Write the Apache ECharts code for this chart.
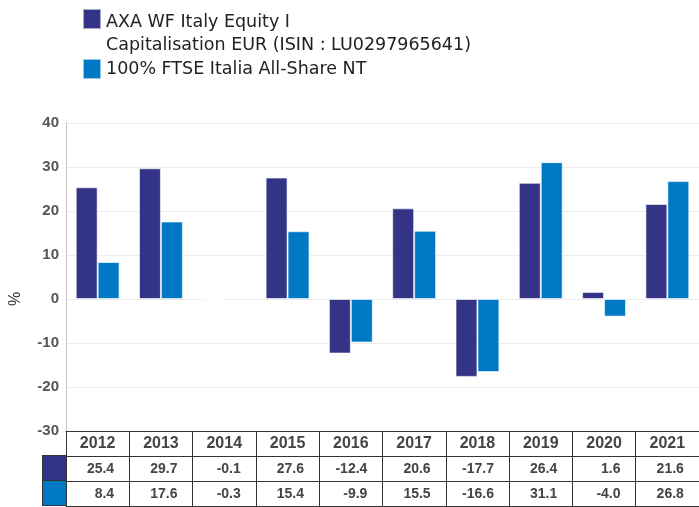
<!DOCTYPE html>
<html>
<head>
<meta charset="utf-8">
<script src="https://cdn.jsdelivr.net/npm/echarts@6/dist/echarts.min.js"></script>
<style>
  html, body { margin: 0; padding: 0; background: #fff; }
  #chart { width: 699px; height: 507px; }
</style>
</head>
<body>
<div id="chart"></div>
<script>
// data
var years = ['2012', '2013', '2014', '2015', '2016', '2017', '2018', '2019', '2020', '2021'];
var fundValues = [25.4, 29.7, -0.1, 27.6, -12.4, 20.6, -17.7, 26.4, 1.6, 21.6];
var benchValues = [8.4, 17.6, -0.3, 15.4, -9.9, 15.5, -16.6, 31.1, -4.0, 26.8];
var fundName = 'AXA WF Italy Equity I\nCapitalisation EUR (ISIN : LU0297965641)';
var benchName = '100% FTSE Italia All-Share NT';
var yMin = -30, yMax = 40, yStep = 10;

var navy = '#343486';
var blue = '#0079C4';
var font = 'Liberation Sans, Arial, sans-serif';
var legendFont = 'DejaVu Sans, sans-serif';
var lineColor = '#333';

var chart = echarts.init(document.getElementById('chart'));

// label style for the table rows (values right aligned in each cell)
function rowLabel (values) {
    return {
        interval: 0,
        margin: 6,
        formatter: function (v, i) {
            return '{v|' + values[i].toFixed(1) + '}';
        },
        rich: {
            v: {
                width: 48,
                align: 'right',
                padding: [0, 15, 0, 0],
                color: '#444',
                fontWeight: 'bold',
                fontSize: 14,
                fontFamily: font
            }
        }
    };
}

function colorCell (color) {
    return {
        verticalAlign: 'top',
        rich: {
            box: { width: 23, height: 24, backgroundColor: color, borderColor: lineColor, borderWidth: 1 }
        }
    };
}

var option = {
    backgroundColor: '#fff',
    animation: false,
    legend: [{
        data: [fundName],
        left: 82,
        top: -9,
        padding: 0,
        icon: 'rect',
        itemWidth: 18,
        itemHeight: 20,
        selectedMode: false,
        // empty first line so the icon sits beside the first text line
        formatter: function (name) {
            var lines = name.split('\n');
            return '{s| }\n{t|' + lines[0] + '}\n{t|' + lines[1] + '}';
        },
        textStyle: {
            rich: {
                s: { lineHeight: 30, fontSize: 10 },
                t: { fontSize: 17.5, color: '#222', fontFamily: legendFont, lineHeight: 23 }
            }
        }
    }, {
        data: [benchName],
        left: 82,
        top: 58,
        padding: 0,
        icon: 'rect',
        itemWidth: 18,
        itemHeight: 20,
        selectedMode: false,
        textStyle: { fontSize: 17.5, color: '#222', fontFamily: legendFont }
    }],
    grid: {
        left: 64,
        right: 0,
        top: 123,
        bottom: 76
    },
    xAxis: [{
        // header row with the years
        type: 'category',
        data: years,
        position: 'bottom',
        offset: 0,
        axisLine: { onZero: false, lineStyle: { color: lineColor } },
        axisTick: { show: true, length: 75, interval: 0, lineStyle: { color: lineColor } },
        axisLabel: { interval: 0, margin: 5, color: '#444', fontWeight: 'bold', fontSize: 16, fontFamily: font },
        splitLine: { show: false }
    }, {
        type: 'category',
        data: years,
        position: 'bottom',
        offset: 25,
        axisLine: { onZero: false, lineStyle: { color: lineColor } },
        axisTick: { show: false },
        axisLabel: rowLabel(fundValues),
        name: '{box|}',
        nameLocation: 'start',
        nameGap: 0,
        nameTextStyle: colorCell(navy)
    }, {
        type: 'category',
        data: years,
        position: 'bottom',
        offset: 50,
        axisLine: { onZero: false, lineStyle: { color: lineColor } },
        axisTick: { show: false },
        axisLabel: rowLabel(benchValues),
        name: '{box|}',
        nameLocation: 'start',
        nameGap: 0,
        nameTextStyle: colorCell(blue)
    }, {
        type: 'category',
        data: years,
        position: 'bottom',
        offset: 75,
        axisLine: { onZero: false, lineStyle: { color: lineColor } },
        axisTick: { show: false },
        axisLabel: { show: false }
    }],
    yAxis: {
        type: 'value',
        min: yMin,
        max: yMax,
        interval: yStep,
        name: '%',
        nameLocation: 'middle',
        nameRotate: 90,
        nameGap: 42,
        nameTextStyle: { fontSize: 16, color: '#333', fontFamily: font, padding: [0, 44, 0, 0] },
        axisLine: { show: true, lineStyle: { color: '#c8c8c8' } },
        axisTick: { show: false },
        axisLabel: { margin: 7, color: '#555', fontWeight: 'bold', fontSize: 15, fontFamily: font },
        splitLine: { lineStyle: { color: '#ececec' } }
    },
    series: [{
        name: fundName,
        type: 'bar',
        data: fundValues,
        barGap: 0,
        barCategoryGap: '30.7%',
        itemStyle: { color: navy, borderColor: 'rgba(255,255,255,0.6)', borderWidth: 1 }
    }, {
        name: benchName,
        type: 'bar',
        data: benchValues,
        barGap: 0,
        barCategoryGap: '30.7%',
        itemStyle: { color: blue, borderColor: 'rgba(255,255,255,0.6)', borderWidth: 1 }
    }]
};

chart.setOption(option);
</script>
</body>
</html>
